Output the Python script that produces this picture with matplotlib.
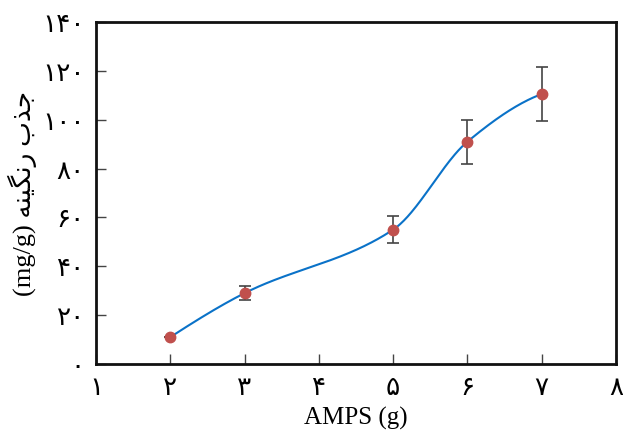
import numpy as np
import matplotlib
matplotlib.use("Agg")
import matplotlib.pyplot as plt

# AMPS dose (g) vs. dye uptake (mg/g)
amps = [2, 3, 5, 6, 7]
uptake = [11.0, 29.0, 55.0, 91.0, 110.5]
uptake_err = [0.0, 2.8, 5.5, 9.0, 11.0]

x_ticks = [1, 2, 3, 4, 5, 6, 7, 8]
y_ticks = [0, 20, 40, 60, 80, 100, 120, 140]

FA_DIGITS = "۰۱۲۳۴۵۶۷۸۹"


def to_fa(n):
    return "".join(FA_DIGITS[int(c)] for c in str(n))


def pchip(x, y, xs):
    # shape-preserving cubic through the measured points
    x = np.asarray(x, float)
    y = np.asarray(y, float)
    h = np.diff(x)
    d = np.diff(y) / h
    m = np.zeros_like(y)
    for k in range(1, len(x) - 1):
        if d[k - 1] * d[k] > 0:
            w1 = 2 * h[k] + h[k - 1]
            w2 = h[k] + 2 * h[k - 1]
            m[k] = (w1 + w2) / (w1 / d[k - 1] + w2 / d[k])
    m[0] = ((2 * h[0] + h[1]) * d[0] - h[0] * d[1]) / (h[0] + h[1])
    m[-1] = ((2 * h[-1] + h[-2]) * d[-1] - h[-1] * d[-2]) / (h[-1] + h[-2])
    idx = np.clip(np.searchsorted(x, xs) - 1, 0, len(x) - 2)
    t = (xs - x[idx]) / h[idx]
    h00 = 2 * t**3 - 3 * t**2 + 1
    h10 = t**3 - 2 * t**2 + t
    h01 = -2 * t**3 + 3 * t**2
    h11 = t**3 - t**2
    return h00 * y[idx] + h10 * h[idx] * m[idx] + h01 * y[idx + 1] + h11 * h[idx] * m[idx + 1]


fig = plt.figure(figsize=(6.23, 4.33), dpi=100)
ax = fig.add_axes([96 / 623, 1 - 364 / 433, 520 / 623, 342 / 433])

xs = np.linspace(amps[0], amps[-1], 300)
ax.plot(xs, pchip(amps, uptake, xs), color="#0a72c8", lw=1.5, zorder=2)
ax.errorbar(amps, uptake, yerr=uptake_err, fmt="none", ecolor="#444444",
            elinewidth=1.2, capsize=4, capthick=1.2, zorder=3)
ax.plot(amps, uptake, "o", color="#c0504d", ms=7.5, mec="#c0504d", zorder=4)

ax.set_xlim(1, 8)
ax.set_ylim(0, 140)
ax.set_xticks(x_ticks)
ax.set_yticks(y_ticks)
ax.set_xticklabels([to_fa(v) for v in x_ticks], family=["DejaVu Sans"], fontsize=19)
ax.set_yticklabels([to_fa(v) for v in y_ticks], family=["DejaVu Sans"], fontsize=19)
ax.tick_params(direction="in", length=7, width=1, color="#444444", pad=8)

for s in ax.spines.values():
    s.set_linewidth(2)
    s.set_color("#111111")

ax.set_xlabel("AMPS (g)", family=["Liberation Serif"], fontsize=18, labelpad=4)
ylab = "(mg/g) " + "\uFEEA\uFEE8\uFBFF\uFB95\uFEE7\uFEAD" + " " + "\uFE8F\uFEAC\uFE9F"
ax.set_ylabel(ylab, family=["Liberation Serif", "DejaVu Sans"], fontsize=19, labelpad=4)

fig.savefig("out.png", dpi=100)
